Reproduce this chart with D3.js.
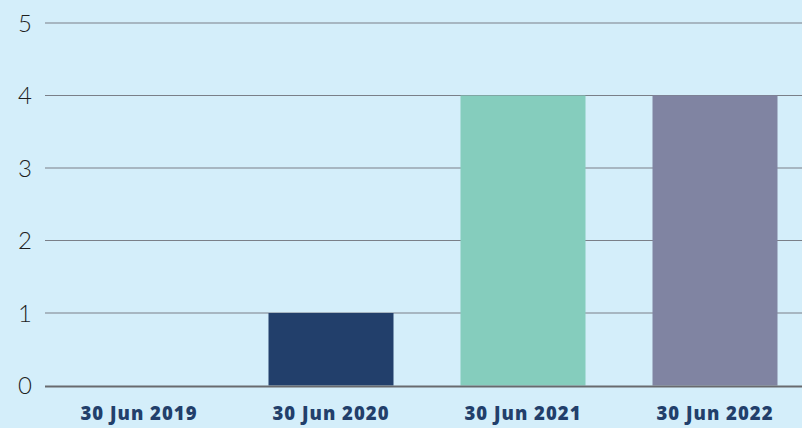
<!DOCTYPE html>
<html lang="en">
<head>
    <meta charset="UTF-8">
    <title>Bar Chart</title>
    <script src="https://d3js.org/d3.v7.min.js"></script>
    <style>
        body { margin: 0; background: #d4eefa; }
    </style>
</head>
<body>
<svg id="main" width="802" height="428"></svg>
<script>
    let categories = ['30 Jun 2019', '30 Jun 2020', '30 Jun 2021', '30 Jun 2022'];
    let values = [0, 1, 4, 4];
    let barColors = ['#223f6b', '#223f6b', '#85cdbd', '#8084a2'];
    let yTicks = [0, 1, 2, 3, 4, 5];

    let svg = d3.select('svg');
    svg.append('rect').attr('width', 802).attr('height', 428).attr('fill', '#d4eefa');

    let xScale = d3.scaleBand().domain(categories).range([43, 811])
        .paddingInner(0.349).paddingOuter(0.1745);
    let yScale = d3.scaleLinear().domain([0, 5]).range([385.5, 23]);

    // gridlines + tick labels
    svg.selectAll('line.grid')
        .data(yTicks.filter(function(d){return d > 0;}))
        .enter()
        .append('line')
        .attr('class', 'grid')
        .attr('x1', 45).attr('x2', 802)
        .attr('y1', function(d){return yScale(d);})
        .attr('y2', function(d){return yScale(d);})
        .attr('stroke', '#7a7f88')
        .attr('stroke-width', 1.2);

    svg.selectAll('text.ytick')
        .data(yTicks)
        .enter()
        .append('text')
        .attr('class', 'ytick')
        .attr('x', 25)
        .attr('y', function(d){return yScale(d);})
        .attr('dy', '0.36em')
        .attr('text-anchor', 'middle')
        .style('font-family', 'Lato, sans-serif')
        .style('font-weight', 300)
        .style('font-size', '24px')
        .style('fill', '#1e1e1e')
        .text(function(d){return d;});

    // bars
    svg.selectAll('rect.bar')
        .data(values)
        .enter()
        .append('rect')
        .attr('class', 'bar')
        .attr('x', function(d, i){return xScale(categories[i]);})
        .attr('width', xScale.bandwidth())
        .attr('y', function(d){return yScale(d);})
        .attr('height', function(d){return yScale(0) - yScale(d);})
        .attr('fill', function(d, i){return barColors[i];});

    // baseline
    svg.append('line')
        .attr('x1', 45).attr('x2', 802)
        .attr('y1', yScale(0) + 1).attr('y2', yScale(0) + 1)
        .attr('stroke', '#686a6e')
        .attr('stroke-width', 2);

    // category labels
    svg.selectAll('text.xlabel')
        .data(categories)
        .enter()
        .append('text')
        .attr('class', 'xlabel')
        .attr('x', function(d){return xScale(d) + xScale.bandwidth() / 2;})
        .attr('y', 420)
        .attr('text-anchor', 'middle')
        .style('font-family', '"Open Sans", sans-serif')
        .style('font-weight', 800)
        .style('font-size', '18.5px')
        .style('letter-spacing', '1px')
        .style('fill', '#223f6b')
        .text(function(d){return d;});
</script>
</body>
</html>
